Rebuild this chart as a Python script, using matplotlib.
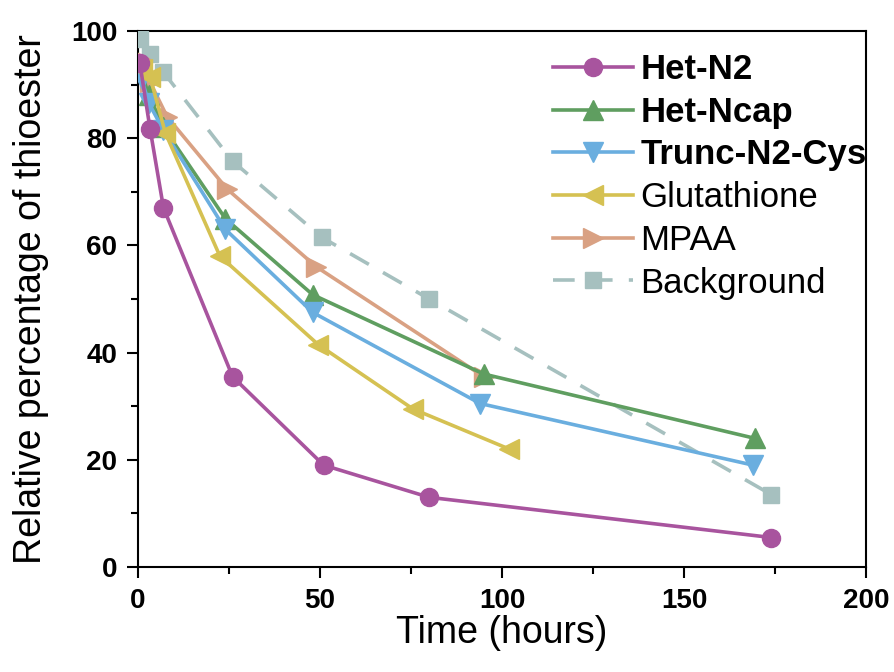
import numpy as np
import matplotlib
matplotlib.use("Agg")
import matplotlib.pyplot as plt
from matplotlib.ticker import MultipleLocator

plt.rcParams['font.family'] = ['Liberation Sans', 'DejaVu Sans']

# data
het_n2_t = [0.5, 3.3, 7, 26, 51, 80, 174]
het_n2_y = [94, 81.8, 67, 35.5, 19, 13, 5.5]

het_ncap_t = [0.5, 3, 7, 24, 48, 95, 169.5]
het_ncap_y = [93, 88, 82, 65, 50.8, 36, 24]

trunc_t = [1, 3, 7, 24, 48, 94, 169]
trunc_y = [91, 86.5, 81.5, 63, 47.5, 30.5, 19]

gsh_t = [1, 3.3, 7.5, 22.5, 49.5, 75.5, 102]
gsh_y = [93, 91.5, 81, 58, 41.5, 29.5, 22]

mpaa_t = [1, 3.3, 8, 24.5, 49, 95]
mpaa_y = [94.5, 90.5, 84, 70.5, 56, 35.5]

bg_t = [0.5, 3.3, 7, 26, 50.5, 80, 174]
bg_y = [98.5, 95.7, 92.3, 75.7, 61.5, 50, 13.5]

fig = plt.figure(figsize=(8.94, 6.72), dpi=100)
# axes box: x 138..866 px, y 31..567 px
ax = fig.add_axes([138 / 894, 1 - 567 / 672, 728 / 894, 536 / 672])

lw = 2.6
ax.plot(het_n2_t, het_n2_y, '-o', color='#a8549e', lw=lw, ms=13, label='Het-N2', zorder=8)
ax.plot(het_ncap_t, het_ncap_y, '-^', color='#5f9e60', lw=lw, ms=14, label='Het-Ncap', zorder=5)
ax.plot(trunc_t, trunc_y, '-v', color='#6aaedf', lw=lw, ms=14, label='Trunc-N2-Cys', zorder=6)
ax.plot(gsh_t, gsh_y, '-<', color='#d5c152', lw=lw, ms=14, label='Glutathione', zorder=7)
ax.plot(mpaa_t, mpaa_y, '->', color='#d9a183', lw=lw, ms=14, label='MPAA', zorder=4)
ax.plot(bg_t, bg_y, '--s', color='#a6c0bf', lw=lw, ms=12, dashes=(6, 4.5), label='Background', zorder=3)

ax.set_xlim(0, 200)
ax.set_ylim(0, 100)
ax.xaxis.set_major_locator(MultipleLocator(50))
ax.xaxis.set_minor_locator(MultipleLocator(25))
ax.yaxis.set_major_locator(MultipleLocator(20))
ax.yaxis.set_minor_locator(MultipleLocator(10))
ax.tick_params(which='major', direction='out', length=8, width=1.5, labelsize=20, pad=7)
ax.tick_params(which='minor', direction='out', length=5, width=1.5)
for lab in ax.get_xticklabels() + ax.get_yticklabels():
    lab.set_fontweight('bold')
for s in ax.spines.values():
    s.set_linewidth(1.5)

ax.set_xlabel('Time (hours)', fontsize=27, labelpad=1)
ax.set_ylabel('Relative percentage of thioester', fontsize=27, labelpad=16)

leg = fig.legend(loc='upper left', bbox_to_anchor=(553 / 894, 1 - 53 / 672),
                 frameon=False, fontsize=25, handlelength=2.3, borderpad=0,
                 handletextpad=0.22, labelspacing=0.28, borderaxespad=0)
for i, t in enumerate(leg.get_texts()):
    if i < 3:
        t.set_fontweight('bold')

fig.savefig('out.png', dpi=100)
